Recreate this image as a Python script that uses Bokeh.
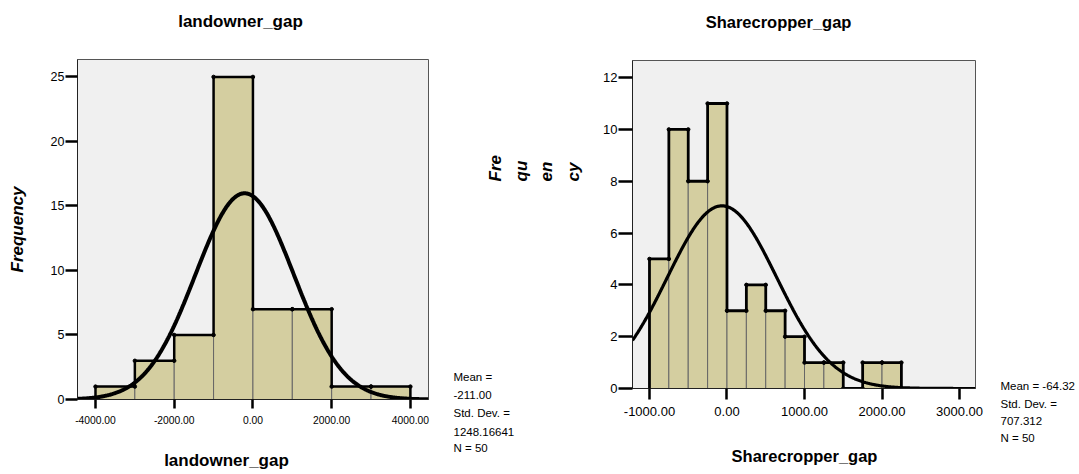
import numpy as np
from bokeh.plotting import figure
from bokeh.models import Range1d, LinearAxis, FixedTicker, NumeralTickFormatter
from bokeh.layouts import row, column
from bokeh.embed import file_html
from bokeh.resources import INLINE

# ---------------- data ----------------
land_title = "landowner_gap"
land_edges = [-4000, -3000, -2000, -1000, 0, 1000, 2000, 3000, 4000]
land_counts = [1, 3, 5, 25, 7, 7, 1, 1]
land_mean = -211.00
land_sd = 1248.16641
land_n = 50
land_xticks = [-4000, -2000, 0, 2000, 4000]
land_yticks = [0, 5, 10, 15, 20, 25]
land_stats = ["Mean =", "-211.00", "Std. Dev. =", "1248.16641", "N = 50"]

share_title = "Sharecropper_gap"
share_edges = [-1000, -750, -500, -250, 0, 250, 500, 750, 1000, 1250, 1500, 1750, 2000, 2250]
share_counts = [5, 10, 8, 11, 3, 4, 3, 2, 1, 1, 0, 1, 1]
share_mean = -64.32
share_sd = 707.312
share_n = 50
share_xticks = [-1000, 0, 1000, 2000, 3000]
share_yticks = [0, 2, 4, 6, 8, 10, 12]
share_stats = ["Mean = -64.32", "Std. Dev. =", "707.312", "N = 50"]
share_ylabel_parts = ["Fre", "qu", "en", "cy"]

FONT = "Liberation Sans"
BAR = "#d4cea0"
BG = "#f0f0f0"
H = 472


def make_fig(width, height, bl, br, bt, bb, xr, yr, visible=True):
    p = figure(width=width, height=height, output_backend="svg", toolbar_location=None,
               x_range=Range1d(*xr), y_range=Range1d(*yr),
               x_axis_location=None, y_axis_location=None,
               min_border_left=bl, min_border_right=br, min_border_top=bt, min_border_bottom=bb)
    p.frame_align = False
    p.border_fill_color = "white"
    p.xgrid.visible = False
    p.ygrid.visible = False
    if visible:
        p.background_fill_color = BG
        p.outline_line_color = "#555555"
        p.outline_line_width = 1
    else:
        p.background_fill_color = None
        p.outline_line_color = None
    return p


def num_axis(ticks, fs, tick_len, standoff, fmt=None):
    ax = LinearAxis(ticker=FixedTicker(ticks=ticks))
    if fmt:
        ax.formatter = NumeralTickFormatter(format=fmt)
    ax.major_label_text_font = FONT
    ax.major_label_text_font_size = fs
    ax.major_label_text_color = "black"
    ax.major_tick_out = tick_len
    ax.major_tick_in = 0
    ax.major_tick_line_width = 2.5
    ax.major_tick_line_color = "black"
    ax.minor_tick_line_color = None
    ax.axis_line_color = "#222222"
    ax.axis_line_width = 1
    ax.major_label_standoff = standoff
    return ax


def text_axis(ticks, texts, fs, style, standoff, orientation="horizontal"):
    ax = LinearAxis(ticker=FixedTicker(ticks=ticks),
                    major_label_overrides={t: s for t, s in zip(ticks, texts)})
    ax.major_label_text_font = FONT
    ax.major_label_text_font_size = fs
    ax.major_label_text_font_style = style
    ax.major_label_text_color = "black"
    ax.major_label_orientation = orientation
    ax.major_tick_out = 0
    ax.major_tick_in = 0
    ax.major_tick_line_color = None
    ax.minor_tick_line_color = None
    ax.axis_line_color = None
    ax.major_label_standoff = standoff
    return ax


def draw_hist(p, edges, counts, mean, sd, n, xr, outline_w, curve_w):
    left = edges[:-1]
    right = edges[1:]
    p.quad(left=left, right=right, bottom=0, top=counts, fill_color=BAR,
           line_color="#666666", line_width=1)
    xs, ys = [edges[0]], [0]
    for l, r, c in zip(left, right, counts):
        xs += [l, r]
        ys += [c, c]
    xs.append(edges[-1])
    ys.append(0)
    p.line(xs, ys, line_color="black", line_width=outline_w)
    p.scatter(xs[1:-1], ys[1:-1], size=3.5, color="black")
    bw = edges[1] - edges[0]
    cx = np.linspace(xr[0], xr[1], 500)
    cy = n * bw * np.exp(-0.5 * ((cx - mean) / sd) ** 2) / (sd * np.sqrt(2 * np.pi))
    p.line(cx, cy, line_color="black", line_width=curve_w)


def px_to_data(px, f0, fw, r):
    return int(round(r[0] + (px - f0) / fw * (r[1] - r[0])))


# ---------- left chart (window x 0..440) ----------
W1, FL1, FW1, FT1, FB1 = 440, 77, 351, 59, 399
xr1 = (-4457, 4460)
yr1 = (0, 26.35)
p1 = make_fig(W1, H, FL1, W1 - FL1 - FW1, FT1, H - FB1, xr1, yr1)
draw_hist(p1, land_edges, land_counts, land_mean, land_sd, land_n, xr1, 2.5, 4)
xa1 = num_axis(land_xticks, "10.3px", 9, 7, "0.00")
p1.add_layout(xa1, "below")
t1b = px_to_data(226, FL1, FW1, xr1)
p1.add_layout(text_axis([t1b], [land_title], "17px", "bold", 24), "below")
t1a = px_to_data(240, FL1, FW1, xr1)
p1.add_layout(text_axis([t1a], [land_title], "17px", "bold", 29), "above")
ya1 = num_axis(land_yticks, "12.5px", 12, 1)
ya1.axis_label = "Frequency"
ya1.axis_label_text_font = FONT
ya1.axis_label_text_font_size = "17px"
ya1.axis_label_text_font_style = "bold italic"
ya1.axis_label_text_color = "black"
ya1.axis_label_standoff = 21
p1.add_layout(ya1, "left")

# ---------- middle column: stacked y label of the right chart + left stats ----------
WM = 150
HF = 200
pf = make_fig(WM, HF, 40, 0, 184, 0, (480, 590), (0, 1), visible=False)
pf.add_layout(text_axis([495, 521, 546, 573], share_ylabel_parts, "17px", "bold italic", 3,
                        np.pi / 2), "above")

HS = H - HF
ps = make_fig(WM, HS, 1, WM - 1 - 12, 360 - HF, H - 466, (441, 453), (466, 360), visible=False)
ps.add_layout(text_axis([376, 394, 412, 431, 447], land_stats, "11.5px", "normal", 0), "right")
mid = column(pf, ps)

# ---------- right chart (window x 590..985) ----------
X2, W2, FL2, FW2, FT2, FB2 = 590, 395, 632, 343, 60, 388
xr2 = (-1219, 3206)
yr2 = (0, 12.66)
p2 = make_fig(W2, H, FL2 - X2, W2 - (FL2 - X2) - FW2, FT2, H - FB2, xr2, yr2)
draw_hist(p2, share_edges, share_counts, share_mean, share_sd, share_n, xr2, 2.8, 3.2)
p2.add_layout(num_axis(share_xticks, "13px", 11, 7, "0.00"), "below")
t2b = px_to_data(804, FL2, FW2, xr2)
p2.add_layout(text_axis([t2b], [share_title], "16.5px", "bold", 28), "below")
t2a = px_to_data(778, FL2, FW2, xr2)
p2.add_layout(text_axis([t2a], [share_title], "16.5px", "bold", 30), "above")
p2.add_layout(num_axis(share_yticks, "13px", 14, 1), "left")

# ---------- right stats (window x 985..1079) ----------
WR = 1079 - X2 - W2
pr = make_fig(WR, H, 0, WR - 15, 370, H - 452, (985, 1000), (452, 370), visible=False)
pr.add_layout(text_axis([385, 403, 420, 437], share_stats, "11.5px", "normal", 0), "right")

layout = row(p1, mid, p2, pr)
open("out.html", "w").write(file_html(layout, INLINE))
